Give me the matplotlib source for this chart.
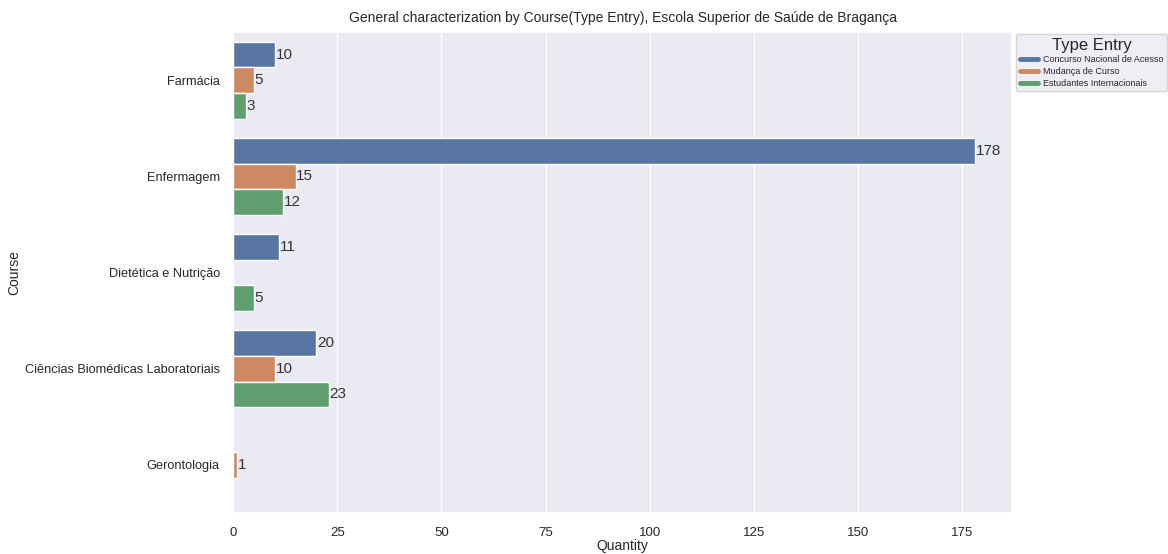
import numpy as np
import matplotlib.pyplot as plt
import seaborn as sns
from matplotlib.lines import Line2D

courses = ["Farmácia", "Enfermagem", "Dietética e Nutrição",
           "Ciências Biomédicas Laboratoriais", "Gerontologia"]
entry_types = ["Concurso Nacional de Acesso", "Mudança de Curso", "Estudantes Internacionais"]
concurso = [10, 178, 11, 20, np.nan]
mudanca = [5, 15, np.nan, 10, 1]
internacionais = [3, 12, 5, 23, np.nan]
xticks = [0, 25, 50, 75, 100, 125, 150, 175]

sns.set_theme(style="darkgrid")
plt.rcParams["font.family"] = ["Liberation Sans", "DejaVu Sans"]
colors = [sns.desaturate(c, 0.75) for c in sns.color_palette("deep", 3)]

fig = plt.figure(figsize=(11.68, 5.54), dpi=100)
ax = fig.add_axes([0.1995, 0.074, 0.667, 0.868])

y = np.arange(len(courses))
h = 0.8 / 3
for i, (vals, c) in enumerate(zip([concurso, mudanca, internacionais], colors)):
    pos = y + (i - 1) * h
    bars = ax.barh(pos, vals, height=h, color=c, label=entry_types[i])
    labels = ["" if np.isnan(v) else f"{int(v)}" for v in vals]
    ax.bar_label(bars, labels=labels, fontsize=11, padding=0.5, color="#333333")

ax.grid(axis="y", visible=False)
ax.set_ylim(len(courses) - 0.5, -0.5)
ax.set_xlim(0, 178 * 1.05)
ax.set_yticks(y)
ax.set_yticklabels(courses, fontsize=9.2)
ax.set_xticks(xticks)
ax.tick_params(axis="x", labelsize=9.5, pad=4)
ax.set_xlabel("Quantity", fontsize=10, labelpad=0)
ax.set_ylabel("Course", fontsize=10)
ax.yaxis.set_label_coords(-0.272, 0.5)
ax.set_title("General characterization by Course(Type Entry), Escola Superior de Saúde de Bragança",
             fontsize=10, pad=7)

handles = [Line2D([0], [0], color=c, lw=3.5) for c in colors]
leg = ax.legend(handles, entry_types, title="Type Entry", loc="upper left",
                bbox_to_anchor=(1.005, 0.996), fontsize=6.5, title_fontsize=12,
                handlelength=2.0, handletextpad=0.6, borderaxespad=0, labelspacing=0.3)

fig.savefig("out.png", dpi=100)
